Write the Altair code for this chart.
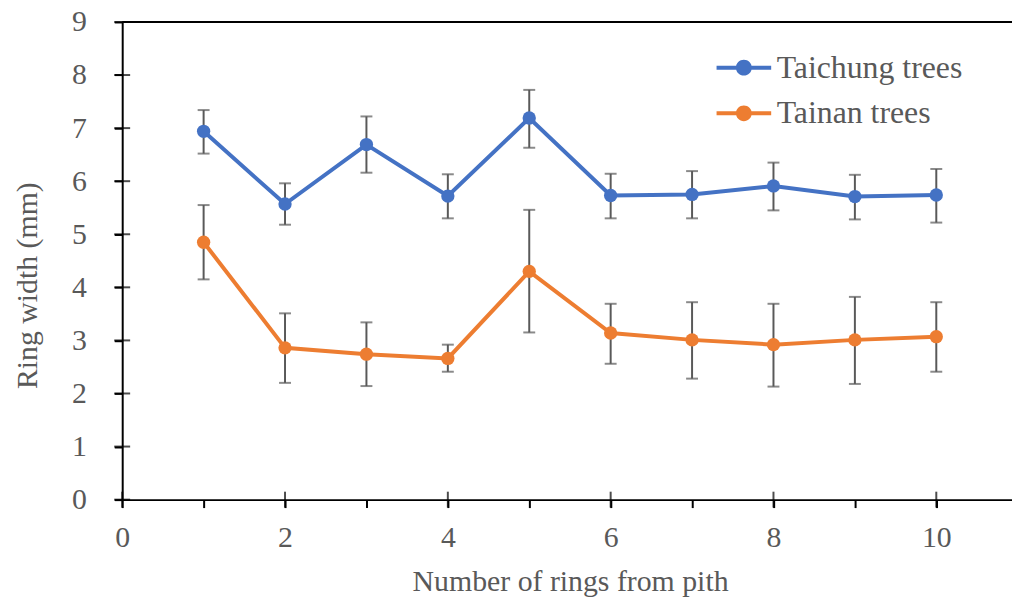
import altair as alt
import pandas as pd

rings = [1, 2, 3, 4, 5, 6, 7, 8, 9, 10]
taichung_mean = [6.94, 5.57, 6.69, 5.72, 7.19, 5.73, 5.75, 5.91, 5.71, 5.74]
taichung_hi = [7.34, 5.96, 7.22, 6.13, 7.72, 6.14, 6.19, 6.35, 6.12, 6.23]
taichung_lo = [6.52, 5.18, 6.16, 5.30, 6.63, 5.30, 5.30, 5.45, 5.28, 5.22]
tainan_mean = [4.85, 2.86, 2.74, 2.66, 4.30, 3.14, 3.01, 2.92, 3.01, 3.07]
tainan_hi = [5.55, 3.51, 3.34, 2.92, 5.46, 3.69, 3.72, 3.69, 3.82, 3.72]
tainan_lo = [4.15, 2.20, 2.14, 2.41, 3.15, 2.56, 2.28, 2.13, 2.18, 2.41]
series_names = ["Taichung trees", "Tainan trees"]
series_colors = ["#4472C4", "#ED7D31"]
x_major = [0, 2, 4, 6, 8, 10]
x_all = list(range(0, 11))
y_major = list(range(0, 10))
y_all = [i / 2 for i in range(0, 19)]

rows = []
for name, m, lo, hi in [
    (series_names[0], taichung_mean, taichung_lo, taichung_hi),
    (series_names[1], tainan_mean, tainan_lo, tainan_hi),
]:
    for r, a, b, c in zip(rings, m, lo, hi):
        rows.append({"ring": r, "series": name, "mean": a, "lo": b, "hi": c})
df = pd.DataFrame(rows)

FONT = "Liberation Serif"
GRAY = "#595959"

xscale = alt.Scale(domain=[0, 10.93], nice=False, zero=False)
yscale = alt.Scale(domain=[0, 9], nice=False)
cscale = alt.Scale(domain=series_names, range=series_colors)

xaxis = alt.Axis(
    values=x_all, labelExpr="datum.value % 2 == 0 ? format(datum.value, 'd') : ''",
    title="Number of rings from pith", grid=False,
    domainColor="black", domainWidth=2, tickColor="black", tickWidth=2, tickSize=8,
    labelFont=FONT, labelFontSize=30, labelColor=GRAY, labelBaseline="alphabetic",
    labelPadding=39, labelFlush=False,
    titleFont=FONT, titleFontSize=30, titleColor=GRAY, titleFontWeight="normal",
    titleBaseline="alphabetic", titleY=92, titleX=451,
)
yaxis = alt.Axis(
    values=y_all, labelExpr="datum.value % 1 == 0 ? format(datum.value, 'd') : ''",
    title="Ring width (mm)", grid=False,
    domainColor="black", domainWidth=2, tickColor="black", tickWidth=2, tickSize=8,
    labelFont=FONT, labelFontSize=30, labelColor=GRAY, labelPadding=28,
    labelFlush=False,
    titleFont=FONT, titleFontSize=30, titleColor=GRAY, titleFontWeight="normal",
    titleBaseline="alphabetic", titleX=-86, titleY=265, titleAngle=-90,
)

base = alt.Chart(df)

bars = base.mark_rule(color=GRAY, strokeWidth=2).encode(
    x=alt.X("ring:Q", scale=xscale, axis=xaxis),
    y=alt.Y("lo:Q", scale=yscale, axis=yaxis),
    y2="hi:Q",
)
cap_lo = base.mark_tick(color=GRAY, orient="horizontal", size=12, thickness=2).encode(
    x="ring:Q", y="lo:Q")
cap_hi = base.mark_tick(color=GRAY, orient="horizontal", size=12, thickness=2).encode(
    x="ring:Q", y="hi:Q")

line_layers = [
    base.transform_filter(alt.datum.series == name)
    .mark_line(strokeWidth=4, color=col)
    .encode(x="ring:Q", y="mean:Q")
    for name, col in zip(series_names, series_colors)
]

legend_path = ("M-2.75,-0.2H2.75V0.2H-2.75Z "
               "M0.8,0A0.8,0.8,0,1,1,-0.8,0A0.8,0.8,0,1,1,0.8,0Z")
points = base.mark_point(filled=True, size=180, opacity=1).encode(
    x="ring:Q", y="mean:Q",
    color=alt.Color(
        "series:N", scale=cscale,
        legend=alt.Legend(
            title=None, orient="none", legendX=610, legendY=30,
            symbolType=legend_path, symbolSize=400, symbolStrokeWidth=0,
            symbolOpacity=1, labelOffset=17, rowPadding=14, padding=0,
            labelFont=FONT, labelFontSize=32, labelColor=GRAY,
            labelLimit=400,
        ),
    ),
)

xt_df = pd.DataFrame({"v": x_major})
yt_df = pd.DataFrame({"v": y_major})
xticks = alt.Chart(xt_df).mark_tick(color="black", orient="vertical", size=16, thickness=2).encode(
    x="v:Q", y=alt.datum(0))
yticks = alt.Chart(yt_df).mark_tick(color="black", orient="horizontal", size=16, thickness=2).encode(
    y="v:Q", x=alt.datum(0))
topline = alt.Chart(pd.DataFrame({"v": [9]})).mark_rule(color="black", strokeWidth=2).encode(
    y="v:Q")

chart = alt.layer(bars, cap_lo, cap_hi, *line_layers, points, xticks, yticks, topline).properties(
    width=896, height=481,
    autosize=alt.AutoSizeParams(type="none"),
    padding={"left": 115, "top": 12, "right": 0, "bottom": 98},
).configure_view(stroke=None).configure_legend(
    labelFont=FONT, labelFontSize=32, labelColor=GRAY
).configure_text(font=FONT)

chart.save("out.html", embed_options={"renderer": "svg", "actions": False})
